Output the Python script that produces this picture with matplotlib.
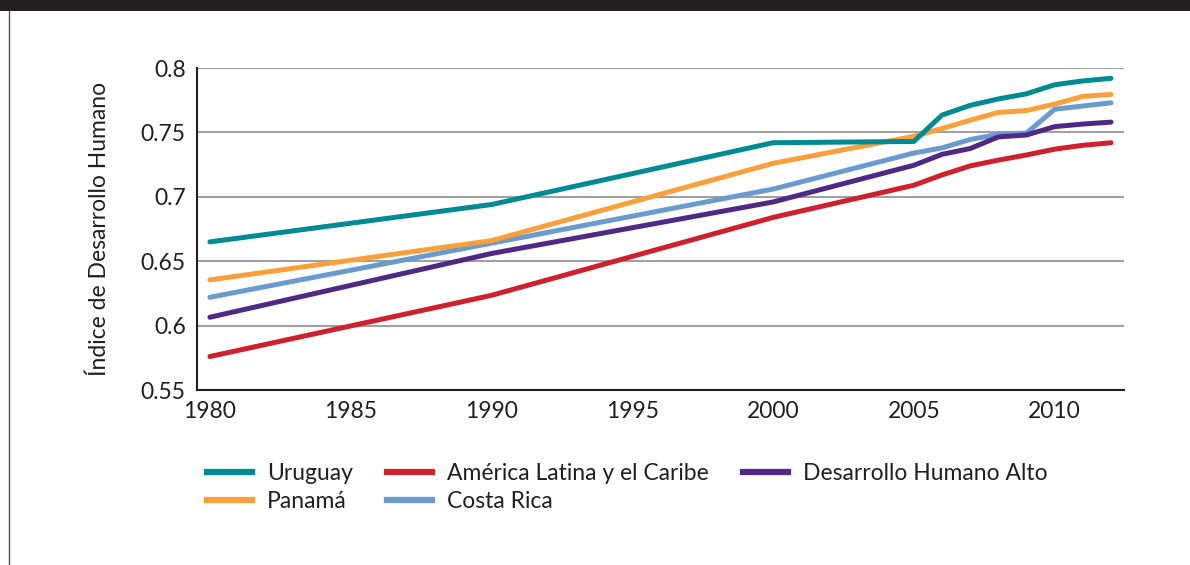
import matplotlib.pyplot as plt
from matplotlib.lines import Line2D
from matplotlib.patches import Rectangle

plt.rcParams['font.family'] = ['Lato', 'DejaVu Sans']

# --- data ---
years = [1980, 1990, 2000, 2005, 2006, 2007, 2008, 2009, 2010, 2011, 2012]

uruguay = [0.665, 0.694, 0.742, 0.743, 0.7635, 0.771, 0.776, 0.780, 0.787, 0.790, 0.792]
panama = [0.6355, 0.666, 0.726, 0.747, 0.753, 0.7595, 0.7655, 0.767, 0.772, 0.778, 0.7795]
costa_rica = [0.622, 0.664, 0.706, 0.734, 0.738, 0.7445, 0.7485, 0.7495, 0.768, 0.7705, 0.773]
alc = [0.576, 0.6235, 0.684, 0.709, 0.717, 0.724, 0.7285, 0.7325, 0.737, 0.740, 0.742]
dh_alto = [0.6065, 0.656, 0.696, 0.7245, 0.733, 0.7375, 0.7465, 0.748, 0.7545, 0.7565, 0.758]

series = [
    ("Uruguay", uruguay, "#008a91"),
    ("Panamá", panama, "#f9a03c"),
    ("América Latina y el Caribe", alc, "#cf202e"),
    ("Costa Rica", costa_rica, "#6a9bcf"),
    ("Desarrollo Humano Alto", dh_alto, "#4e2a84"),
]

yticks = [0.55, 0.6, 0.65, 0.7, 0.75, 0.8]
ytick_labels = ["0.55", "0.6", "0.65", "0.7", "0.75", "0.8"]
xticks = [1980, 1985, 1990, 1995, 2000, 2005, 2010]

FS = 16.5

fig = plt.figure(figsize=(11.9, 5.65), dpi=100)
ax = fig.add_axes([0.1655, 0.3097, 0.779, 0.5699])

# draw order so that the darker lines sit on top like in the original
draw_order = ["Costa Rica", "Panamá", "América Latina y el Caribe",
              "Desarrollo Humano Alto", "Uruguay"]
lookup = {name: (vals, col) for name, vals, col in series}
for name in draw_order:
    vals, col = lookup[name]
    ax.plot(years, vals, color=col, linewidth=3.6, solid_capstyle="round", zorder=3)

ax.set_xlim(1979.54, 2012.46)
ax.set_ylim(0.55, 0.8)
ax.set_yticks(yticks)
ax.set_yticklabels(ytick_labels)
ax.set_xticks(xticks)
ax.tick_params(axis="both", length=0, labelsize=FS, colors="#231f20", pad=8)
ax.yaxis.grid(True, color="#a0a0a0", linewidth=1.5)
ax.set_axisbelow(True)
for side in ["top", "right"]:
    ax.spines[side].set_visible(False)
for side in ["left", "bottom"]:
    ax.spines[side].set_color("#231f20")
    ax.spines[side].set_linewidth(1.5)
ax.set_ylabel("Índice de Desarrollo Humano", fontsize=FS, color="#231f20", labelpad=22)

# legend, filled column-wise: Uruguay/Panamá, ALC/Costa Rica, DH Alto
handles = [Line2D([], [], color=col, linewidth=4.5) for _, _, col in series]
labels = [name for name, _, _ in series]
fig.legend(handles, labels, loc="upper left", bbox_to_anchor=(0.174, 0.18),
           ncol=3, frameon=False, fontsize=FS, handlelength=1.96,
           handletextpad=0.65, columnspacing=1.5, labelspacing=0.3,
           borderaxespad=0, borderpad=0, labelcolor="#231f20")

# dark header band and left frame line
fig.patches.append(Rectangle((0, 1 - 11 / 565), 1, 11 / 565, transform=fig.transFigure,
                             facecolor="#231f20", edgecolor="none"))
fig.lines.append(Line2D([9 / 1190, 9 / 1190], [0, 1 - 11 / 565], transform=fig.transFigure,
                        color="#555555", linewidth=1))

fig.savefig("out.png", dpi=100)
